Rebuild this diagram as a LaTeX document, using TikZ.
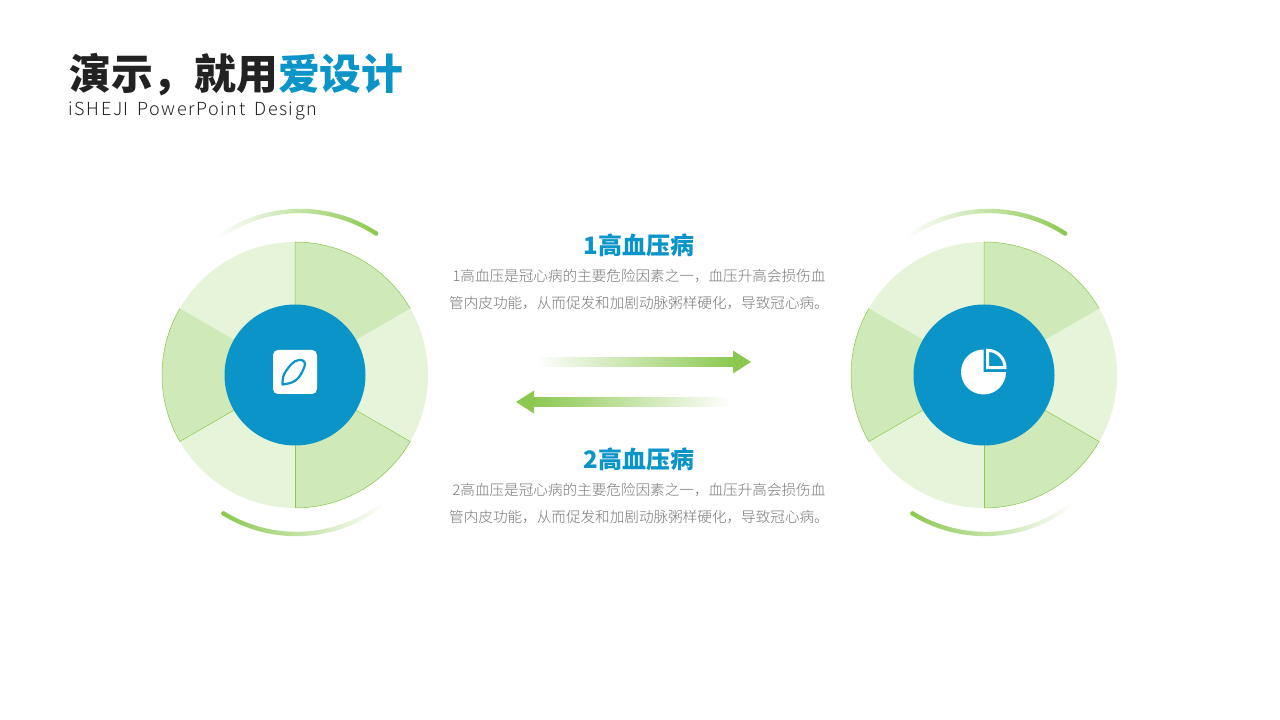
\documentclass[tikz,border=0pt]{standalone}
\usepackage{fontspec}
\setmainfont{Noto Sans CJK SC}
\newfontfamily\thinfont{Noto Sans CJK SC}[UprightFont={* Light}]
\newfontfamily\subfont{Noto Sans CJK SC}[UprightFont={* Light}, LetterSpace=8.6, WordSpace=1.6]
\usepackage{tikz}
\usetikzlibrary{positioning}
\definecolor{hubblue}{HTML}{0A94C8}
\definecolor{leafgreen}{HTML}{8CC850}
\definecolor{sectordark}{HTML}{CFE9B8}
\definecolor{sectorlight}{HTML}{E6F4DA}
\definecolor{inkdark}{HTML}{222222}
\definecolor{inkgrey}{HTML}{777777}

\begin{document}
\begin{tikzpicture}[
x=1pt, y=1pt,
hubnode/.style={circle,
  fill=hubblue,
  minimum size=141pt,
  inner sep=0pt,
},
headnode/.style={
  font=\bfseries\fontsize{24}{28}\selectfont,
  text=hubblue,
  inner sep=0pt,
},
bodynode/.style={
  font=\thinfont\fontsize{14.6}{26.5}\selectfont,
  text=inkgrey,
  align=center,
  inner sep=0pt,
},
sectoredge/.style={draw=leafgreen, line width=0.5pt},
]
\useasboundingbox (0,0) rectangle (1280,720);

% title
\node[anchor=west, inner sep=0pt, text=inkdark, font=\bfseries\fontsize{41.8}{46}\selectfont] (title) at (69,645)
    {演示，就用\textcolor{hubblue}{爱设计}};
\node[anchor=west, inner sep=0pt, text=inkdark, font=\subfont\fontsize{18}{22}\selectfont] (subtitle) at (68.5,608.5)
    {iSHEJI PowerPoint Design};

% both wheels
\foreach \cx/\nm in {295/lefthub, 984/righthub} {
  \fill[sectorlight] (\cx,345) circle[radius=133];
  \foreach \a in {0,120,240} {
    \fill[sectordark, rotate around={\a:(\cx,345)}] (\cx,345) -- ++(90:133) arc[start angle=90, end angle=30, radius=133] -- cycle;
    \draw[sectoredge, rotate around={\a:(\cx,345)}] (\cx,345) -- ++(90:133) arc[start angle=90, end angle=30, radius=133];
  }
  \draw[sectoredge] (\cx,345) -- ++(-90:133);
  \node[hubnode] (\nm) at (\cx,345) {};

  \shade[left color=white, right color=leafgreen] (\cx+5,369) ++(57:142.2) arc[start angle=57, end angle=126, radius=142.2] -- ++(126:-4.4) arc[start angle=126, end angle=57, radius=137.8] -- cycle;
  \fill[leafgreen] (\cx+5,369) ++(57:140) circle[radius=2.2];
  \shade[left color=leafgreen, right color=white] (\cx+1.5,326) ++(238.5:142.2) arc[start angle=238.5, end angle=308, radius=142.2] -- ++(308:-4.4) arc[start angle=308, end angle=238.5, radius=137.8] -- cycle;
  \fill[leafgreen] (\cx+1.5,326) ++(238.5:140) circle[radius=2.2];
}

% icons
\fill[white, rounded corners=5pt] (273,326) rectangle (317,370);
\draw[hubblue, line width=2.2pt, line join=round] (282.5,335.5) .. controls (282.5,341) and (283,345) .. (286,349)
  .. controls (289,353) and (293,359.5) .. (299,360) .. controls (304,360.5) and (306,357.5) .. (304.5,353.5)
  .. controls (302.5,348) and (300,343) .. (295.5,339.5) .. controls (292,337) and (287,336) .. cycle;

\fill[white] (983.5,348) -- ++(90:22.5) arc[start angle=90, end angle=450, radius=22.5] -- cycle;
\fill[hubblue] (983.5,348) -- ++(90:24) arc[start angle=90, end angle=0, radius=24] -- cycle;
\draw[white, line width=3pt, line join=miter] (987.7,369.5) -- (987.7,352.3) -- (1005,352.3) arc[start angle=0, end angle=90, radius=17.3] -- cycle;

% arrows
\shade[left color=white, right color=leafgreen] (536,353.5) rectangle (734,362.5);
\fill[leafgreen] (733,346.5) -- (751,358) -- (733,369.5) -- cycle;
\shade[left color=leafgreen, right color=white] (533,313.5) rectangle (730,322.5);
\fill[leafgreen] (534,306.5) -- (516,318) -- (534,329.5) -- cycle;

% texts
\node[headnode] (headone) at (639,475) {1高血压病};
\node[bodynode, below=12.5pt of headone] (bodyone)
    {1高血压是冠心病的主要危险因素之一，血压升高会损伤血\\管内皮功能，从而促发和加剧动脉粥样硬化，导致冠心病。};
\node[headnode] (headtwo) at (639,261) {2高血压病};
\node[bodynode, below=12.5pt of headtwo] (bodytwo)
    {2高血压是冠心病的主要危险因素之一，血压升高会损伤血\\管内皮功能，从而促发和加剧动脉粥样硬化，导致冠心病。};
\end{tikzpicture}
\end{document}
